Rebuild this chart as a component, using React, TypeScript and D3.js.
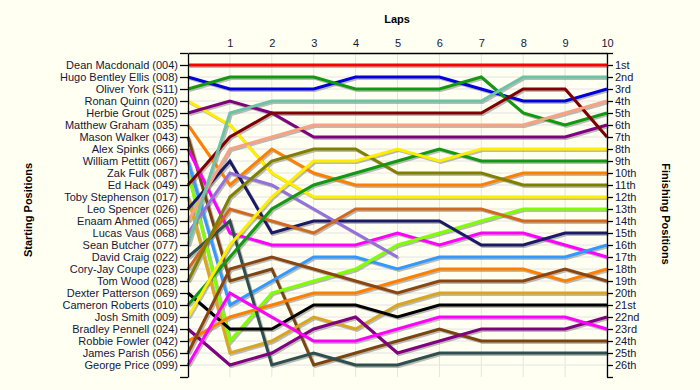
import React, { useEffect, useRef } from 'react'
import * as d3 from 'd3'

// starting grid order
const drivers = [
  'Dean Macdonald (004)', 'Hugo Bentley Ellis (008)', 'Oliver York (S11)', 'Ronan Quinn (020)',
  'Herbie Grout (025)', 'Matthew Graham (035)', 'Mason Walker (043)', 'Alex Spinks (066)',
  'William Pettitt (067)', 'Zak Fulk (087)', 'Ed Hack (049)', 'Toby Stephenson (017)',
  'Leo Spencer (026)', 'Enaam Ahmed (065)', 'Lucas Vaus (068)', 'Sean Butcher (077)',
  'David Craig (022)', 'Cory-Jay Coupe (023)', 'Tom Wood (028)', 'Dexter Patterson (069)',
  'Cameron Roberts (010)', 'Josh Smith (009)', 'Bradley Pennell (024)', 'Robbie Fowler (042)',
  'James Parish (056)', 'George Price (099)',
]

const laps = [0, 1, 2, 3, 4, 5, 6, 7, 8, 9, 10]

// race position of each driver at lap 0..10
const positions = [
  [1, 1, 1, 1, 1, 1, 1, 1, 1, 1, 1],
  [2, 3, 3, 3, 2, 2, 2, 3, 4, 4, 3],
  [3, 2, 2, 2, 3, 3, 3, 2, 5, 6, 5],
  [4, 6, 10, 12, 12, 12, 12, 12, 12, 12, 12],
  [5, 4, 5, 7, 7, 7, 7, 7, 7, 7, 6],
  [6, 11, 8, 10, 11, 11, 11, 11, 10, 10, 10],
  [7, 19, 18, 26, 25, 24, 23, 24, 24, 24, 24],
  [8, 15, 16, 16, 16, 15, 16, 15, 15, 16, 17],
  [9, 21, 19, 17, 17, 18, 17, 17, 17, 17, 16],
  [10, 24, 20, 19, 18, 16, 15, 14, 13, 13, 13],
  [11, 7, 5, 5, 5, 5, 5, 5, 3, 3, 7],
  [12, 25, 24, 22, 23, 21, 20, 20, 20, 20, 20],
  [13, 9, 15, 14, 14, 14, 14, 16, 16, 15, 15],
  [14, 8, 7, 6, 6, 6, 6, 6, 6, 5, 4],
  [15, 10, 11, 13, 15, 17],
  [16, 5, 4, 4, 4, 4, 4, 4, 2, 2, 2],
  [17, 14, 26, 25, 26, 26, 25, 25, 25, 25, 25],
  [18, 13, 14, 15, 13, 13, 13, 13, 14, 14, 14],
  [19, 12, 9, 8, 8, 10, 10, 10, 11, 11, 11],
  [20, 23, 23, 21, 21, 22, 21, 21, 21, 21, 21],
  [21, 17, 13, 11, 10, 9, 8, 9, 9, 9, 9],
  [22, 16, 12, 9, 9, 8, 9, 8, 8, 8, 8],
  [23, 26, 25, 23, 22, 25, 24, 23, 23, 23, 22],
  [24, 22, 21, 20, 20, 19, 18, 18, 18, 19, 18],
  [25, 18, 17, 18, 19, 20, 19, 19, 19, 18, 19],
  [26, 20, 22, 24, 24, 23, 22, 22, 22, 22, 23],
]

const finishLabels = [
  '1st', '2nd', '3rd', '4th', '5th', '6th', '7th', '8th', '9th', '10th', '11th', '12th', '13th',
  '14th', '15th', '16th', '17th', '18th', '19th', '20th', '21st', '22nd', '23rd', '24th', '25th', '26th',
]

const lineColors = [
  '#ff0000', '#0000dd', '#119911', '#ffee00', '#800080', '#ff8000', '#7a4510', '#ff00ff',
  '#3399ff', '#80ff00', '#800000', '#daa520', '#1a1a66', '#f7a283', '#9370db', '#6cc4a4',
  '#2f4f4f', '#d2691e', '#808000', '#000000', '#119911', '#ffee00', '#800080', '#ff8000',
  '#8b4513', '#ff00ff',
]

function drawChart(el) {
  const svg = d3.select(el)
  svg.selectAll('*').remove()
  const W = 700, H = 390
  const textColor = '#16163a'
  const font = '"Liberation Sans", Arial, sans-serif'

  svg.attr('width', W).attr('height', H).style('background', '#fffff2')

  const x = d3.scaleLinear().domain([0, 10]).range([188, 607])
  const y = d3.scaleLinear().domain([0, 27]).range([53, 377])
  const slots = d3.range(0, 28)

  // grid
  svg.append('g').selectAll('line.h').data(slots.slice(1, 27)).join('line')
    .attr('x1', x(0)).attr('x2', x(10))
    .attr('y1', d => y(d)).attr('y2', d => y(d))
    .attr('stroke', '#e4e4e4').attr('stroke-width', 1)
  svg.append('g').selectAll('line.v').data(laps.slice(1)).join('line')
    .attr('x1', d => x(d)).attr('x2', d => x(d))
    .attr('y1', y(0)).attr('y2', y(27))
    .attr('stroke', '#e4e4e4').attr('stroke-width', 1)

  const line = d3.line()
    .x((d, i) => x(laps[i]))
    .y(d => y(d))

  // shadows
  svg.append('g').attr('transform', 'translate(1.5,1.5)')
    .selectAll('path').data(positions).join('path')
    .attr('d', d => line(d))
    .attr('fill', 'none').attr('stroke', '#777').attr('stroke-opacity', 0.5)
    .attr('stroke-width', 3)

  svg.append('g').selectAll('path').data(positions).join('path')
    .attr('d', d => line(d))
    .attr('fill', 'none')
    .attr('stroke', (d, i) => lineColors[i])
    .attr('stroke-width', 3)
    .attr('stroke-linejoin', 'miter')

  // axes
  const left = svg.append('g').attr('transform', `translate(${x(0)},0)`)
    .call(d3.axisLeft(y).tickValues(slots).tickSize(8).tickPadding(2).tickSizeOuter(0)
      .tickFormat(d => drivers[d - 1] || ''))
  const right = svg.append('g').attr('transform', `translate(${x(10)},0)`)
    .call(d3.axisRight(y).tickValues(slots).tickSize(6).tickPadding(2).tickSizeOuter(0)
      .tickFormat(d => finishLabels[d - 1] || ''))
  const top = svg.append('g').attr('transform', `translate(0,${y(0)})`)
    .call(d3.axisTop(x).tickValues(laps.slice(1)).tickSize(0).tickPadding(6).tickSizeOuter(0))

  ;[left, right, top].forEach(g => {
    g.selectAll('path, line').attr('stroke', '#000').attr('stroke-width', 1.3)
    g.selectAll('text').attr('fill', textColor).style('font-family', font).style('font-size', '11px')
  })

  svg.append('text').attr('x', 397).attr('y', 23).attr('text-anchor', 'middle')
    .style('font-family', font).style('font-size', '11px').style('font-weight', 'bold')
    .attr('fill', '#000').text('Laps')
  svg.append('text').attr('transform', 'translate(32,210) rotate(-90)').attr('text-anchor', 'middle')
    .style('font-family', font).style('font-size', '11px').style('font-weight', 'bold')
    .attr('fill', '#000').text('Starting Positions')
  svg.append('text').attr('transform', 'translate(662,214) rotate(90)').attr('text-anchor', 'middle')
    .style('font-family', font).style('font-size', '11px').style('font-weight', 'bold')
    .attr('fill', '#000').text('Finishing Positions')
}

const App = () => {
  const ref = useRef(null)
  useEffect(() => {
    drawChart(ref.current)
  }, [])

  return (
    <div style={{ position: 'absolute', left: 0, top: 0 }}>
      <svg ref={ref} style={{ display: 'block' }}></svg>
    </div>
  )
}

export default App
